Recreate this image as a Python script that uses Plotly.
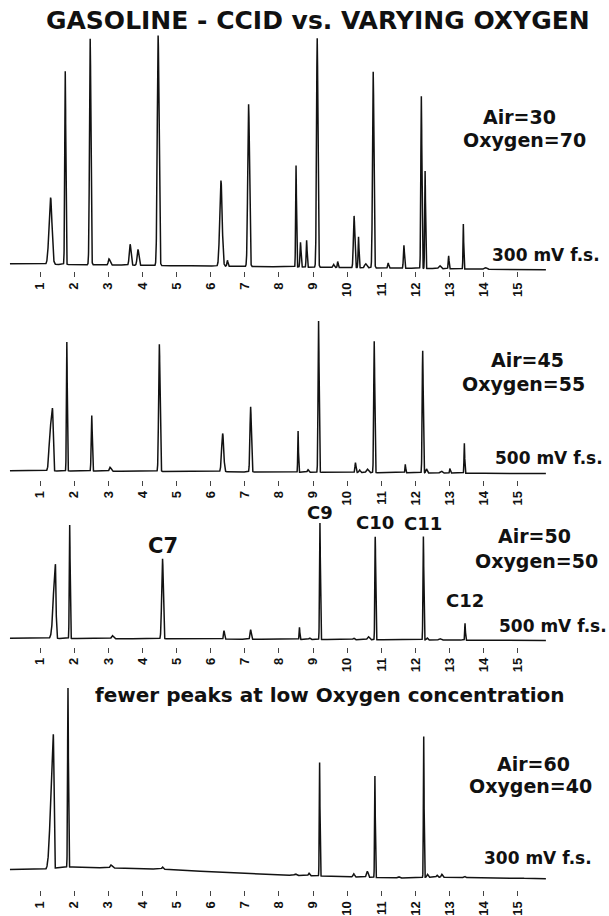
import numpy as np
import plotly.graph_objects as go

W, H = 609, 916

# ---------------- data ----------------
tick_values = list(range(1, 16))
tick_labels = [str(v) for v in tick_values]
run_start, run_end = 0.12, 15.82          # minutes covered by each trace

# Panel 1 : Air=30 / Oxygen=70 (300 mV f.s.)
p1_time   = [1.31, 1.74, 2.47, 3.02, 3.64, 3.87, 4.46, 6.30, 6.49, 7.11, 8.50, 8.63, 8.81, 9.12,
             9.60, 9.72, 10.20, 10.33, 10.54, 10.76, 11.20, 11.66, 12.17, 12.28, 12.71, 12.97, 13.40, 14.05]
p1_height = [67, 194, 227, 6, 21, 16, 231, 86, 6, 163, 102, 25, 27, 230,
             3, 6, 52, 31, 4, 197, 5, 23, 173, 98, 3, 13, 45, 1.5]
p1_sig_l  = [0.045, 0.015, 0.02, 0.02, 0.025, 0.025, 0.025, 0.035, 0.015, 0.025, 0.012, 0.015, 0.013, 0.02,
             0.02, 0.012, 0.02, 0.013, 0.03, 0.02, 0.015, 0.015, 0.015, 0.012, 0.03, 0.012, 0.01, 0.03]
p1_sig_r  = [0.04, 0.015, 0.02, 0.03, 0.025, 0.025, 0.025, 0.035, 0.015, 0.025, 0.012, 0.015, 0.013, 0.02,
             0.02, 0.012, 0.02, 0.013, 0.03, 0.02, 0.015, 0.015, 0.015, 0.012, 0.03, 0.012, 0.01, 0.03]
p1_base_time  = [0.12, 15.82]
p1_base_level = [7.5, 1.5]

# Panel 2 : Air=45 / Oxygen=55 (500 mV f.s.)
p2_time   = [1.28, 1.365, 1.786, 2.515, 3.05, 4.495, 6.35, 7.17, 8.56, 8.85, 9.16, 10.24, 10.36, 10.59,
             10.79, 11.70, 12.21, 12.32, 12.75, 13.01, 13.43]
p2_height = [16, 63, 129.6, 56, 4, 128, 38.5, 65.4, 41.4, 2.5, 152, 10, 2.5, 3.5,
             132, 8.5, 122.6, 4, 2, 4.5, 30]
p2_sig_l  = [0.025, 0.055, 0.012, 0.015, 0.02, 0.02, 0.03, 0.02, 0.01, 0.02, 0.015, 0.015, 0.02, 0.03,
             0.015, 0.01, 0.015, 0.02, 0.03, 0.012, 0.01]
p2_sig_r  = [0.025, 0.018, 0.012, 0.015, 0.03, 0.02, 0.03, 0.02, 0.01, 0.02, 0.015, 0.015, 0.02, 0.03,
             0.015, 0.01, 0.015, 0.02, 0.03, 0.012, 0.01]
p2_base_time  = [0.12, 15.82]
p2_base_level = [9.3, 6.3]

# Panel 3 : Air=50 / Oxygen=50 (500 mV f.s.)
p3_time   = [1.45, 1.87, 3.12, 4.59, 6.39, 7.17, 8.60, 8.90, 9.20, 10.19, 10.62, 10.82, 12.23, 12.34, 12.71, 13.45]
p3_height = [74.5, 114, 3, 80.4, 8.5, 9.6, 12.2, 1.5, 117, 1.5, 3, 103.5, 104, 2, 1.5, 17]
p3_sig_l  = [0.055, 0.012, 0.025, 0.025, 0.015, 0.018, 0.01, 0.02, 0.012, 0.02, 0.03, 0.012, 0.012, 0.02, 0.03, 0.01]
p3_sig_r  = [0.018, 0.012, 0.03, 0.02, 0.015, 0.018, 0.01, 0.02, 0.012, 0.02, 0.03, 0.012, 0.012, 0.02, 0.03, 0.01]
p3_base_time  = [0.12, 15.82]
p3_base_level = [8.5, 6.2]
p3_peak_names = ["C7", "C9", "C10", "C11", "C12"]
p3_named_time = [4.59, 9.20, 10.82, 12.23, 13.45]
p3_named_height = [80.4, 117, 103.5, 104, 17]

# Panel 4 : Air=60 / Oxygen=40 (300 mV f.s.)
p4_time   = [1.39, 1.82, 3.07, 4.59, 8.48, 8.88, 9.19, 10.19, 10.59, 10.81, 11.50, 12.24, 12.35, 12.63, 12.77, 13.43]
p4_height = [135, 180, 3, 2, 1.5, 2.5, 114, 3, 6, 102, 1.5, 141.5, 3, 2, 3, 1.5]
p4_sig_l  = [0.07, 0.012, 0.02, 0.02, 0.03, 0.02, 0.01, 0.02, 0.025, 0.01, 0.03, 0.01, 0.02, 0.02, 0.02, 0.02]
p4_sig_r  = [0.015, 0.012, 0.04, 0.02, 0.03, 0.02, 0.01, 0.02, 0.02, 0.01, 0.03, 0.01, 0.02, 0.02, 0.02, 0.02]
p4_base_time  = [0.12, 1.0, 1.2, 1.5, 2.0, 3.0, 5.0, 6.0, 8.0, 9.5, 11.5, 12.5, 15.82]
p4_base_level = [20.7, 21.3, 20.0, 22.5, 23.3, 22.3, 20.7, 18.0, 15.0, 14.0, 12.0, 13.0, 11.5]

panel_air    = ["Air=30", "Air=45", "Air=50", "Air=60"]
panel_oxygen = ["Oxygen=70", "Oxygen=55", "Oxygen=50", "Oxygen=40"]
panel_scale  = ["300 mV f.s.", "500 mV f.s.", "500 mV f.s.", "300 mV f.s."]

# ---------------- build figure ----------------
def chromatogram(times, heights, sl, sr, bt, bl):
    t = np.arange(run_start, run_end, 0.002)
    y = np.interp(t, bt, bl)
    for t0, h, a, b in zip(times, heights, sl, sr):
        s = np.where(t < t0, a, b)
        y = y + h * np.exp(-0.5 * ((t - t0) / s) ** 2)
    return t, y

panels = [
    (p1_time, p1_height, p1_sig_l, p1_sig_r, p1_base_time, p1_base_level),
    (p2_time, p2_height, p2_sig_l, p2_sig_r, p2_base_time, p2_base_level),
    (p3_time, p3_height, p3_sig_l, p3_sig_r, p3_base_time, p3_base_level),
    (p4_time, p4_height, p4_sig_l, p4_sig_r, p4_base_time, p4_base_level),
]
# layout in pixels: (axis line y, top of plot area)
panel_box = [(272.5, 28), (482, 300), (649.5, 505), (894, 684)]

x_left = 1 - 40 / 34.14
x_right = x_left + W / 34.14

fig = go.Figure()
layout = dict(width=W, height=H, margin=dict(l=0, r=0, t=0, b=0),
              paper_bgcolor="white", plot_bgcolor="white", showlegend=False)

def py(p):
    return 1 - p / H

for i, (pdata, (ax_px, top_px)) in enumerate(zip(panels, panel_box)):
    k = "" if i == 0 else str(i + 1)
    t, y = chromatogram(*pdata)
    fig.add_trace(go.Scatter(x=t, y=y, mode="lines", xaxis="x" + k, yaxis="y" + k,
                             line=dict(color="#121212", width=1.5), hoverinfo="skip"))
    layout["xaxis" + k] = dict(domain=[0, 1], range=[x_left, x_right], anchor="y" + k,
                               tickvals=tick_values, ticktext=tick_labels, tickangle=-90,
                               ticks="outside", ticklen=5, tickwidth=1, tickcolor="#444",
                               showline=False, showgrid=False, zeroline=False,
                               tickfont=dict(family="Liberation Sans", size=13, color="#111", weight="bold"))
    layout["yaxis" + k] = dict(domain=[py(ax_px), py(top_px)], range=[0, ax_px - top_px],
                               anchor="x" + k, visible=False, showgrid=False, zeroline=False)

fig.update_layout(**layout)

FONT = "DejaVu Sans"
def text(s, x, y, size):
    fig.add_annotation(text="<b>%s</b>" % s, x=x / W, y=py(y), xref="paper", yref="paper",
                       xanchor="center", yanchor="middle", showarrow=False,
                       font=dict(family=FONT, size=size, color="#111"))

text("GASOLINE - CCID vs. VARYING OXYGEN", 318, 21, 25)
air_pos = [(519, 117.5), (527, 361.7), (534.4, 538), (533.4, 767.5)]
oxy_pos = [(524.7, 141), (523.7, 385.5), (536, 563), (530, 789)]
scl_pos = [(545.5, 256), (548.6, 460.3), (552.9, 629), (537.5, 862)]
for i in range(4):
    text(panel_air[i], *air_pos[i], 19)
    text(panel_oxygen[i], *oxy_pos[i], 19)
    text(panel_scale[i], *scl_pos[i], 17)
text("fewer peaks at low Oxygen concentration", 330, 698, 20)

# peak-name labels, placed above their apex (baseline level added)
label_shift = [13, 11, 14.5, 12.5, 23]
label_size = [21, 18, 18, 18, 18]
for name, tt, hh, sh, sz in zip(p3_peak_names, p3_named_time, p3_named_height, label_shift, label_size):
    base = float(np.interp(tt, p3_base_time, p3_base_level))
    fig.add_annotation(text="<b>%s</b>" % name, x=tt, y=hh + base, xref="x3", yref="y3",
                       xanchor="center", yanchor="middle", yshift=sh, showarrow=False,
                       font=dict(family=FONT, size=sz, color="#111"))

fig.write_html("out.html")
